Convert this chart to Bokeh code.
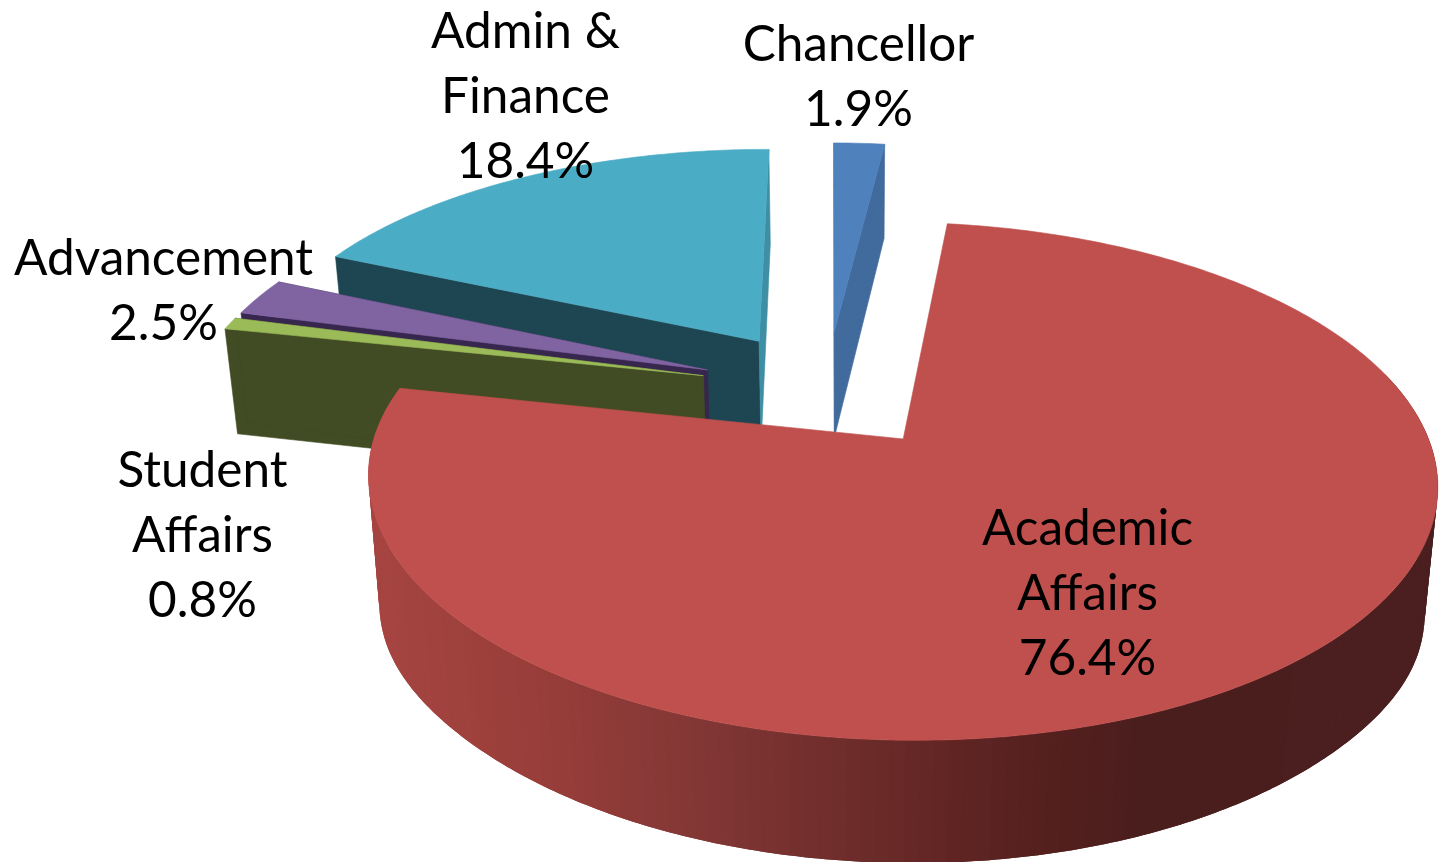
import math
from bokeh.plotting import figure
from bokeh.models import Range1d
from bokeh.core.properties import value
from bokeh.embed import file_html
from bokeh.resources import INLINE

# ---- data ----
categories = ["Chancellor", "Academic Affairs", "Student Affairs", "Advancement", "Admin & Finance"]
shares = [1.9, 76.4, 0.8, 2.5, 18.4]
label_lines = [["Chancellor"], ["Academic", "Affairs"], ["Student", "Affairs"], ["Advancement"], ["Admin &", "Finance"]]

# ---- styles ----
top_colors = ["#4F81BD", "#C0504D", "#9BBB59", "#8064A2", "#4BACC6"]
right_wall_colors = ["#406B9C", "#C0504D", "#414B24", "#37264E", "#3E8FA5"]
left_wall_colors = ["#406B9C", "#C0504D", "#414B24", "#37264E", "#1E4652"]
wall_stops = [(385, (165, 68, 64)), (530, (153, 62, 58)), (700, (130, 55, 53)),
              (890, (105, 42, 40)), (1043, (85, 32, 30)), (1145, (75, 30, 30)), (1439, (75, 31, 31))]
label_anchor = [(858, 41), (1087, 525), (202, 467), (163, 255), (525, 28)]
FONT = "Lato"
FONT_SIZE = "49.5px"
LINE_STEP = 65

# ---- projection: a pinhole view of the exploded pie ----
X0, Y0 = 905.0, 440.0
R, A, K = 528.0, 252.5, 0.1638
DEPTH, CONV, VAN_DX = 112.0, 0.022, -55.0
TILT = 6.0
CENTER = (-0.1546, 0.206)
EXPLODE = 0.25
START_ANGLE = -1.3


def project(u, v, z):
    w = 1 + K * v + CONV * z
    bump = 1 + 0.12 * math.exp(-((v + 0.2) / 0.35) ** 2)
    return (X0 + (R * u + VAN_DX * CONV * z) / w, Y0 + (-A * v + TILT * u + DEPTH * bump * z) / w)


p = figure(width=1439, height=862, x_range=Range1d(0, 1439), y_range=Range1d(862, 0),
           output_backend="svg", toolbar_location=None, min_border=0, outline_line_color=None)
p.xaxis.visible = False
p.yaxis.visible = False
p.grid.visible = False


def poly(points, color, lw=0.6):
    p.patch([q[0] for q in points], [q[1] for q in points], fill_color=color,
            line_color=color if lw else None, line_width=lw or 1)


def wall_color(x):
    if x <= wall_stops[0][0]:
        return "#%02x%02x%02x" % wall_stops[0][1]
    for (x1, c1), (x2, c2) in zip(wall_stops, wall_stops[1:]):
        if x <= x2:
            t = (x - x1) / (x2 - x1)
            return "#%02x%02x%02x" % tuple(round(a + (b - a) * t) for a, b in zip(c1, c2))
    return "#%02x%02x%02x" % wall_stops[-1][1]


# slice angles, clockwise from the back of the pie
total = sum(shares)
angles = []
a0 = START_ANGLE
for s in shares:
    a1 = a0 + 360.0 * s / total
    angles.append((a0, a1))
    a0 = a1

draw_order = [4, 3, 2, 0, 1]
for i in draw_order:
    a0, a1 = angles[i]
    mid = math.radians((a0 + a1) / 2)
    cu = CENTER[0] + EXPLODE * math.sin(mid)
    cv = CENTER[1] + EXPLODE * math.cos(mid)
    n = max(4, int((a1 - a0) * 1.5))
    ts = [math.radians(a0 + (a1 - a0) * j / n) for j in range(n + 1)]
    rim = [(cu + math.sin(t), cv + math.cos(t)) for t in ts]
    if i == 1:
        # outer wall as overlapping strips, painted right to left so no seams show
        front = [q for q in rim if q[1] <= 0.3]
        for j in range(0, len(front) - 1, 2):
            seg = front[j:]
            seg = seg[:5]
            quad = [project(u, v, 0) for u, v in seg] + [project(u, v, 1) for u, v in reversed(seg)]
            poly(quad, wall_color(sum(q[0] for q in quad[:2]) / 2), lw=0)
    else:
        poly([project(cu, cv, 0), project(*rim[0], 0), project(*rim[0], 1), project(cu, cv, 1)], left_wall_colors[i])
        poly([project(cu, cv, 0), project(*rim[-1], 0), project(*rim[-1], 1), project(cu, cv, 1)], right_wall_colors[i])
    top = [project(cu, cv, 0)] + [project(u, v, 0) for u, v in rim]
    poly(top, top_colors[i])

# labels
for name, share, lines, (ax, ay) in zip(categories, shares, label_lines, label_anchor):
    texts = lines + [f"{share:.1f}%"]
    p.text([ax] * len(texts), [ay + LINE_STEP * k for k in range(len(texts))], text=texts,
           text_align="center", text_baseline="middle", text_color="#000000",
           text_font=value(FONT), text_font_size=FONT_SIZE)

open("out.html", "w").write(file_html(p, INLINE))
